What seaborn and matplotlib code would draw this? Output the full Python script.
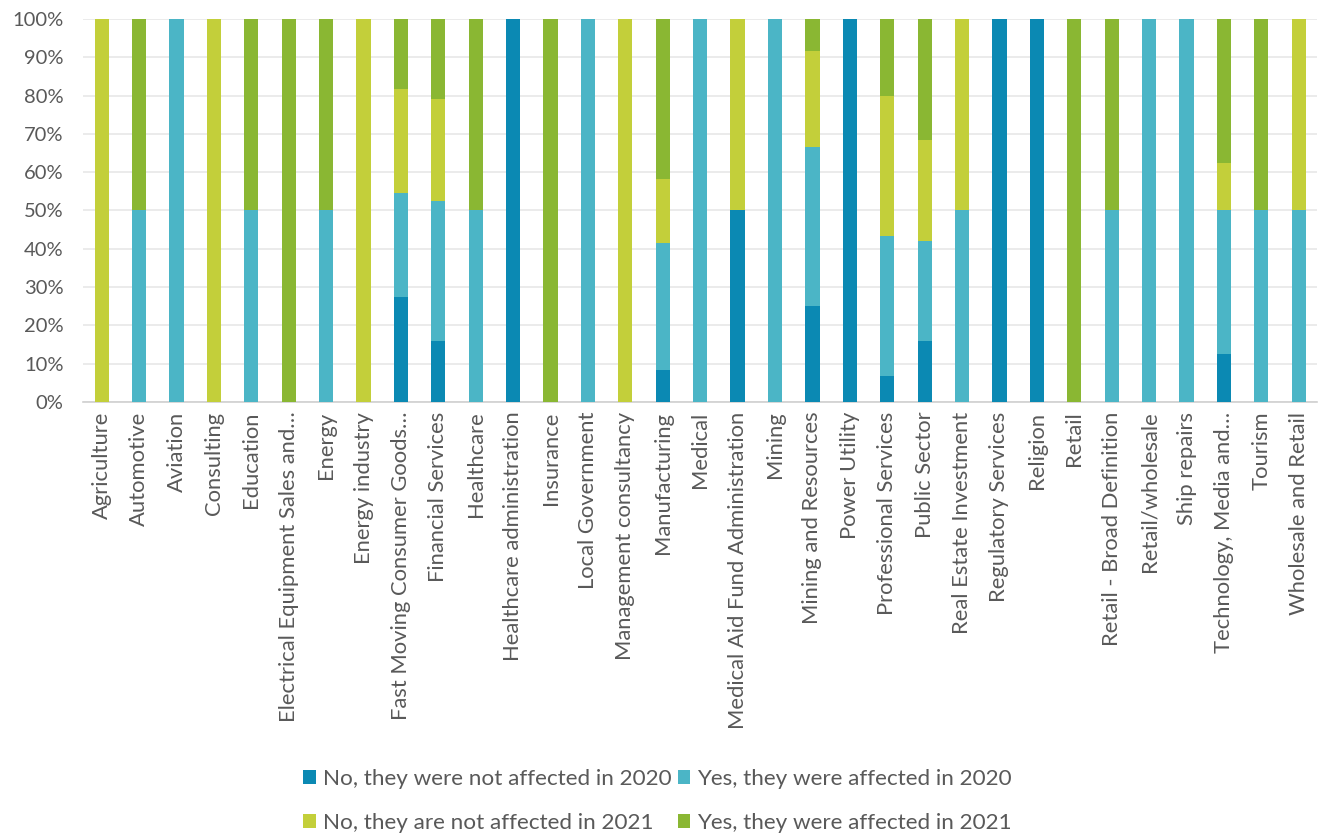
import numpy as np
import pandas as pd
import matplotlib
matplotlib.use("Agg")
import matplotlib.pyplot as plt
import seaborn as sns
from matplotlib.patches import Patch
from matplotlib.ticker import PercentFormatter

industries = [
    "Agriculture", "Automotive", "Aviation", "Consulting", "Education",
    "Electrical Equipment Sales and…", "Energy", "Energy industry",
    "Fast Moving Consumer Goods…", "Financial Services", "Healthcare",
    "Healthcare administration", "Insurance", "Local Government",
    "Management consultancy", "Manufacturing", "Medical",
    "Medical Aid Fund Administration", "Mining", "Mining and Resources",
    "Power Utility", "Professional Services", "Public Sector",
    "Real Estate Investment", "Regulatory Services", "Religion", "Retail",
    "Retail - Broad Definition", "Retail/wholesale", "Ship repairs",
    "Technology, Media and…", "Tourism", "Wholesale and Retail",
]

# Share of respondents per answer (percent)
no_2020 = [0, 0, 0, 0, 0, 0, 0, 0, 27.3, 15.8, 0, 100, 0, 0, 0, 8.3, 0, 50, 0,
           25.0, 100, 6.7, 15.8, 0, 100, 100, 0, 0, 0, 0, 12.5, 0, 0]
yes_2020 = [0, 50, 100, 0, 50, 0, 50, 0, 27.3, 36.8, 50, 0, 0, 100, 0, 33.3,
            100, 0, 100, 41.7, 0, 36.6, 26.3, 50, 0, 0, 0, 50, 100, 100, 37.5,
            50, 50]
no_2021 = [100, 0, 0, 100, 0, 0, 0, 100, 27.2, 26.5, 0, 0, 0, 0, 100, 16.7, 0,
           50, 0, 25.0, 0, 36.7, 26.3, 50, 0, 0, 0, 0, 0, 0, 12.5, 0, 50]
yes_2021 = [0, 50, 0, 0, 50, 100, 50, 0, 18.2, 20.9, 50, 0, 100, 0, 0, 41.7,
            0, 0, 0, 8.3, 0, 20.0, 31.6, 0, 0, 0, 100, 50, 0, 0, 37.5, 50, 0]

series_names = [
    "No, they were not affected in 2020",
    "Yes, they were affected in 2020",
    "No, they are not affected in 2021",
    "Yes, they were affected in 2021",
]
colors = ["#0B89B3", "#4BB5C6", "#C3CF3A", "#8AB733"]

df = pd.DataFrame({
    "industry": industries,
    series_names[0]: no_2020,
    series_names[1]: yes_2020,
    series_names[2]: no_2021,
    series_names[3]: yes_2021,
})
cum = df[series_names].cumsum(axis=1)

sns.set_theme(style="white")
plt.rcParams["font.family"] = ["Lato", "DejaVu Sans"]

fig = plt.figure(figsize=(13.23, 8.33), dpi=100)
ax = fig.add_axes([0.0627, 0.5174, 0.9331, 0.4598])

# Stacked bars: draw cumulative totals from the top segment down
for name, color in reversed(list(zip(series_names, colors))):
    sns.barplot(x=df["industry"], y=cum[name], color=color, width=0.38,
                saturation=1, ax=ax, zorder=3, edgecolor="none")

ax.set_ylim(0, 100)
ax.set_xlim(-0.5, len(industries) - 0.5)
ax.set_yticks(np.arange(0, 101, 10))
ax.yaxis.set_major_formatter(PercentFormatter(decimals=0))
ax.grid(axis="y", color="#E8E8E8", linewidth=1.2, zorder=0)
ax.set_xlabel("")
ax.set_ylabel("")
for side in ["left", "right", "top"]:
    ax.spines[side].set_visible(False)
ax.spines["bottom"].set_color("#D0D0D0")
ax.spines["bottom"].set_linewidth(1.2)
ax.tick_params(axis="y", length=0, labelsize=14.5, labelcolor="#595959", pad=14)
ax.tick_params(axis="x", length=0, labelsize=15.8, labelcolor="#595959", pad=7)
plt.setp(ax.get_xticklabels(), rotation=90, ha="center", va="top")

# Legend rows: 2020 answers on top, 2021 answers below
order = [0, 2, 1, 3]
handles = [Patch(facecolor=colors[i], edgecolor="none") for i in order]
labels = [series_names[i] for i in order]
fig.legend(handles, labels, loc="lower center", ncol=2,
           bbox_to_anchor=(0.497, -0.024), frameon=False, fontsize=16.2,
           labelcolor="#595959", handlelength=0.55, handleheight=0.55,
           handletextpad=0.3, columnspacing=0.3, labelspacing=1.05)

fig.savefig("out.png", dpi=100)
